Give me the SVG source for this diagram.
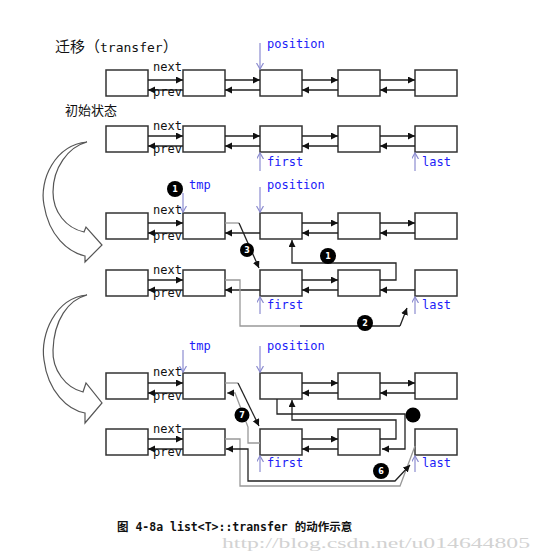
<svg xmlns="http://www.w3.org/2000/svg" width="542" height="560" viewBox="0 0 542 560">
<style>
.bx{fill:#fff;stroke:#333;stroke-width:1.5}
.ln{fill:none;stroke:#222;stroke-width:1.3;marker-end:url(#ah)}
.lnn{fill:none;stroke:#222;stroke-width:1.3}
.gl{fill:none;stroke:#999;stroke-width:1.3}
.gla{fill:none;stroke:#999;stroke-width:1.3;marker-end:url(#ah)}
.ptr{fill:none;stroke:#8c8cd0;stroke-width:1.2;marker-end:url(#pv)}
.lbl{font-family:"DejaVu Sans Mono","Liberation Mono",monospace;font-size:12px;fill:#111}
.blu{font-family:"DejaVu Sans Mono","Liberation Mono",monospace;font-size:12px;fill:#2020f8}
.dot{fill:#000}
.num{font-family:"DejaVu Sans","Liberation Sans",sans-serif;font-size:8px;font-weight:bold;fill:#fff;text-anchor:middle}
.big{fill:#fff;stroke:#555;stroke-width:1.2}
</style>
<defs>
<marker id="ah" markerUnits="userSpaceOnUse" markerWidth="8" markerHeight="8" refX="7" refY="3.5" orient="auto-start-reverse">
<path d="M0,0 L7,3.5 L0,7 z" fill="#111"/>
</marker>
<marker id="pv" markerUnits="userSpaceOnUse" markerWidth="8" markerHeight="8" refX="6" refY="3.5" orient="auto">
<path d="M0,0 L6,3.5 L0,7" fill="none" stroke="#8c8cd0" stroke-width="1.2"/>
</marker>
<rect id="b" width="42" height="26" class="bx"/>
</defs>
<rect width="542" height="560" fill="#fff"/>

<text x="55" y="52" font-family="Noto Sans CJK SC,sans-serif" font-size="15" fill="#111">迁移（<tspan font-family="DejaVu Sans Mono,monospace" font-size="13">transfer</tspan>）</text>
<text x="65" y="115" font-family="Noto Sans CJK SC,sans-serif" font-size="13" fill="#111">初始状态</text>

<g id="bigarrows">
<path class="big" d="M87,142 C55,145 39,180 44,205 C49,236 68,252 85,256 L85,262 L102,245 L86,227 L84,232 C66,228 53,212 53,192 C53,168 68,147 87,142 Z"/>
<path class="big" d="M87,295 C55,298 40,335 44,360 C48,392 68,410 85,413 L85,423 L102,403 L86,383 L83,392 C66,388 52,370 53,350 C54,320 68,300 87,295 Z"/>
</g>

<g id="rowA">
<use id="a1" href="#b" x="106" y="70"/><use id="a2" href="#b" x="183" y="70"/><use id="a3" href="#b" x="260" y="70"/><use id="a4" href="#b" x="338" y="70"/><use id="a5" href="#b" x="415" y="70"/>
</g>
<g id="rowB">
<use id="b1" href="#b" x="106" y="126"/><use id="b2" href="#b" x="183" y="126"/><use id="b3" href="#b" x="260" y="126"/><use id="b4" href="#b" x="338" y="126"/><use id="b5" href="#b" x="415" y="126"/>
</g>
<g id="rowC">
<use id="c1" href="#b" x="106" y="213"/><use id="c2" href="#b" x="183" y="213"/><use id="c3" href="#b" x="260" y="213"/><use id="c4" href="#b" x="338" y="213"/><use id="c5" href="#b" x="415" y="213"/>
</g>
<g id="rowD">
<use id="d1" href="#b" x="106" y="270"/><use id="d2" href="#b" x="183" y="270"/><use id="d3" href="#b" x="260" y="270"/><use id="d4" href="#b" x="338" y="270"/><use id="d5" href="#b" x="415" y="270"/>
</g>
<g id="rowE">
<use id="e1" href="#b" x="106" y="373"/><use id="e2" href="#b" x="183" y="373"/><use id="e3" href="#b" x="260" y="373"/><use id="e4" href="#b" x="338" y="373"/><use id="e5" href="#b" x="415" y="373"/>
</g>
<g id="rowF">
<use id="f1" href="#b" x="106" y="429"/><use id="f2" href="#b" x="183" y="429"/><use id="f3" href="#b" x="260" y="429"/><use id="f4" href="#b" x="338" y="429"/><use id="f5" href="#b" x="415" y="429"/>
</g>

<g id="connectors">
<path class="ln" d="M148,80H183"/><path class="ln" d="M183,90H148"/>
<path class="ln" d="M225,80H260"/><path class="ln" d="M260,90H225"/>
<path class="ln" d="M302,80H338"/><path class="ln" d="M338,90H302"/>
<path class="ln" d="M380,80H415"/><path class="ln" d="M415,90H380"/>
<path class="ln" d="M148,136H183"/><path class="ln" d="M183,146H148"/>
<path class="ln" d="M225,136H260"/><path class="ln" d="M260,146H225"/>
<path class="ln" d="M302,136H338"/><path class="ln" d="M338,146H302"/>
<path class="ln" d="M380,136H415"/><path class="ln" d="M415,146H380"/>
<path class="ln" d="M148,223H183"/><path class="ln" d="M183,233H148"/>
<path class="ln" d="M260,233H225"/>
<path class="ln" d="M302,223H338"/><path class="ln" d="M338,233H302"/>
<path class="ln" d="M380,223H415"/><path class="ln" d="M415,233H380"/>
<path class="ln" d="M148,280H183"/><path class="ln" d="M183,290H148"/>
<path class="ln" d="M260,290H225"/>
<path class="ln" d="M302,280H338"/><path class="ln" d="M338,290H302"/>
<path class="ln" d="M415,290H380"/>
<path class="ln" d="M148,383H183"/><path class="ln" d="M183,393H148"/>
<path class="ln" d="M302,383H338"/><path class="ln" d="M338,393H302"/>
<path class="ln" d="M380,383H415"/><path class="ln" d="M415,393H380"/>
<path class="ln" d="M148,439H183"/><path class="ln" d="M183,449H148"/>
<path class="ln" d="M302,439H338"/><path class="ln" d="M338,449H302"/>

<path class="gl" d="M225,223H239"/>
<path class="ln" d="M239,223L259,268"/>
<path class="gl" d="M225,280H240V326H300"/>
<path class="lnn" d="M300,326H400"/>
<path class="ln" d="M400,326L407,308"/>
<path class="ln" d="M380,280H396V263H292V240"/>

<path class="gl" d="M225,383H238"/>
<path class="ln" d="M238,383L259,426"/>
<path class="gla" d="M260,443H248V427L235,393H227"/>
<path class="ln" d="M277,399V414H405V449H382"/>
<path class="ln" d="M380,439H396V420H292V400"/>
<path class="gl" d="M225,439H240V486H400L415,446"/>
<path class="ln" d="M226,449H248V481H395L410,465" style="marker-start:url(#ah)"/>

<path class="ptr" d="M260,43V69"/>
<path class="ptr" d="M260,171V153"/>
<path class="ptr" d="M415,171V153"/>
<path class="ptr" d="M183,193V212"/>
<path class="ptr" d="M260,187V212"/>
<path class="ptr" d="M260,314V297"/>
<path class="ptr" d="M415,314V297"/>
<path class="ptr" d="M183,350V372"/>
<path class="ptr" d="M260,346V372"/>
<path class="ptr" d="M260,472V456"/>
<path class="ptr" d="M415,472V456"/>
</g>

<g id="labels">
<text class="lbl" x="153" y="71">next</text><text class="lbl" x="153" y="96">prev</text>
<text class="lbl" x="153" y="130">next</text><text class="lbl" x="153" y="153">prev</text>
<text class="lbl" x="153" y="214">next</text><text class="lbl" x="153" y="240">prev</text>
<text class="lbl" x="153" y="274">next</text><text class="lbl" x="153" y="297">prev</text>
<text class="lbl" x="153" y="376">next</text><text class="lbl" x="153" y="400">prev</text>
<text class="lbl" x="153" y="433">next</text><text class="lbl" x="153" y="456">prev</text>

<text class="blu" x="267" y="48">position</text>
<text class="blu" x="267" y="166">first</text><text class="blu" x="422" y="166">last</text>
<text class="blu" x="189" y="189">tmp</text><text class="blu" x="267" y="189">position</text>
<text class="blu" x="267" y="309">first</text><text class="blu" x="422" y="309">last</text>
<text class="blu" x="189" y="350">tmp</text><text class="blu" x="267" y="350">position</text>
<text class="blu" x="267" y="467">first</text><text class="blu" x="422" y="467">last</text>
</g>

<g id="steps">
<circle class="dot" cx="175" cy="189" r="8"/><text class="num" x="175" y="192">1</text>
<circle class="dot" cx="247" cy="250" r="7"/><text class="num" x="247" y="253">3</text>
<circle class="dot" cx="328" cy="256" r="8"/><text class="num" x="328" y="259">1</text>
<circle class="dot" cx="365" cy="323" r="8"/><text class="num" x="365" y="326">2</text>
<circle class="dot" cx="242" cy="415" r="7.5"/><text class="num" x="242" y="418">7</text>
<circle class="dot" cx="413" cy="415" r="7.5"/>
<circle class="dot" cx="381" cy="471" r="8"/><text class="num" x="381" y="474">6</text>
</g>

<text x="117" y="531" font-family="DejaVu Sans Mono,Noto Sans CJK SC,monospace" font-size="11.5" font-weight="bold" fill="#111">图 4-8a list&lt;T&gt;::transfer 的动作示意</text>
<text x="222" y="548" font-family="Liberation Serif,serif" font-size="15" fill="#d2d2d2" textLength="308" lengthAdjust="spacingAndGlyphs">http://blog.csdn.net/u014644805</text>
</svg>
